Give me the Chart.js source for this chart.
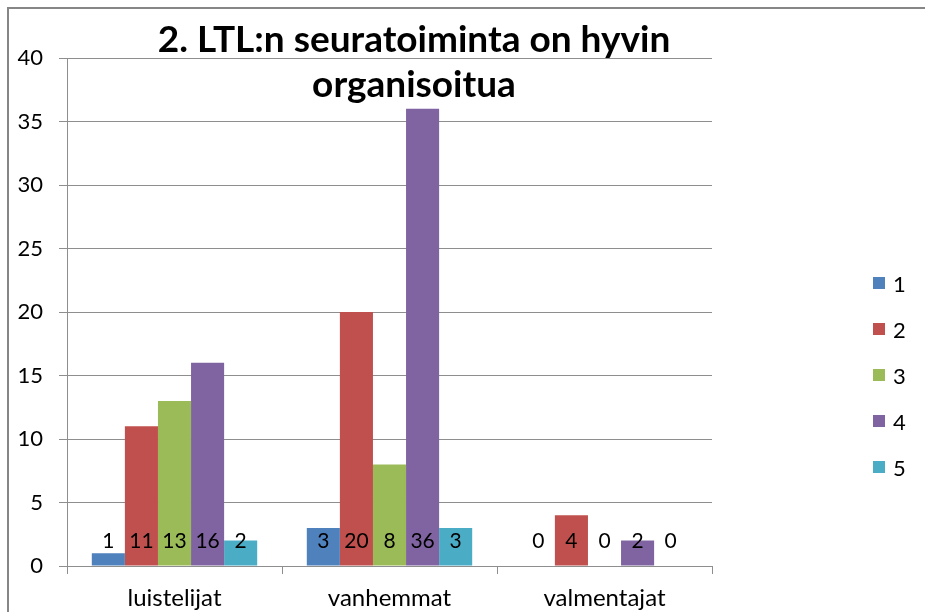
<!DOCTYPE html>
<html lang="fi">
<head>
<meta charset="UTF-8">
<title>LTL:n seuratoiminta</title>
<script src="https://cdn.jsdelivr.net/npm/chart.js@4.4.7/dist/chart.umd.min.js"></script>
<style>
  * { margin: 0; padding: 0; box-sizing: border-box; }
  html, body { width: 925px; height: 612px; overflow: hidden; background: #fff; font-family: Lato, sans-serif; }
  .frame { position: absolute; left: 7px; top: 7px; width: 918px; height: 605px; border-left: 2px solid #868686; border-top: 2px solid #868686; }
  .wrap { position: absolute; left: 0; top: 0; width: 925px; height: 612px; }
  .legend { position: absolute; left: 873px; top: 260px; list-style: none; }
  .legend li { display: flex; align-items: center; height: 46px; font-size: 22px; color: #000; }
  .legend span.box { width: 12px; height: 12px; margin-right: 8px; }
</style>
</head>
<body>
  <div class="frame"></div>
  <div class="wrap"><canvas id="chart" width="925" height="612"></canvas></div>
  <ul class="legend" id="legend"></ul>

  <script>
    const titleLines = ['2. LTL:n seuratoiminta on hyvin', 'organisoitua'];
    const categories = ['luistelijat', 'vanhemmat', 'valmentajat'];
    const seriesNames = ['1', '2', '3', '4', '5'];
    const series1 = [1, 3, 0];
    const series2 = [11, 20, 4];
    const series3 = [13, 8, 0];
    const series4 = [16, 36, 2];
    const series5 = [2, 3, 0];
    const yTicks = [0, 5, 10, 15, 20, 25, 30, 35, 40];
    const colors = ['#4F81BD', '#C0504D', '#9BBB59', '#8064A2', '#4BACC6'];

    const allSeries = [series1, series2, series3, series4, series5];
    const gridColor = '#8e8e8e';

    // arvot palkkien alaosaan (Excel "inside base")
    const baseLabels = {
      id: 'baseLabels',
      afterDatasetsDraw(chart) {
        const { ctx, scales: { y } } = chart;
        ctx.save();
        ctx.font = '21px Lato';
        ctx.fillStyle = '#000';
        ctx.textAlign = 'center';
        ctx.textBaseline = 'middle';
        chart.data.datasets.forEach((ds, i) => {
          chart.getDatasetMeta(i).data.forEach((bar, j) => {
            ctx.fillText(String(ds.data[j]), bar.x, y.getPixelForValue(0) - 25);
          });
        });
        ctx.restore();
      }
    };

    // otsikko piirtoalueen päälle
    const overlayTitle = {
      id: 'overlayTitle',
      afterDraw(chart) {
        const { ctx } = chart;
        ctx.save();
        ctx.font = 'bold 37px Lato';
        ctx.fillStyle = '#000';
        ctx.textAlign = 'center';
        ctx.textBaseline = 'alphabetic';
        ctx.fillText(titleLines[0], 414, 52);
        ctx.fillText(titleLines[1], 414, 97);
        ctx.restore();
      }
    };

    new Chart(document.getElementById('chart'), {
      type: 'bar',
      data: {
        labels: categories,
        datasets: allSeries.map((d, i) => ({
          label: seriesNames[i],
          data: d,
          backgroundColor: colors[i],
          borderWidth: 0,
          categoryPercentage: 5 / 6.5,
          barPercentage: 1
        }))
      },
      options: {
        responsive: false,
        animation: false,
        layout: { padding: { top: 58, right: 213, bottom: 0, left: 0 } },
        plugins: {
          legend: { display: false },
          title: { display: false },
          tooltip: { enabled: false }
        },
        scales: {
          x: {
            grid: { drawOnChartArea: false, tickLength: 8, color: gridColor },
            border: { color: gridColor },
            ticks: { color: '#000', font: { family: 'Lato', size: 24 }, padding: 10 },
            afterFit: s => { s.height = 46; }
          },
          y: {
            min: 0,
            max: 40,
            afterBuildTicks: s => { s.ticks = yTicks.map(v => ({ value: v })); },
            grid: { tickLength: 8, color: gridColor },
            border: { color: gridColor },
            ticks: { color: '#000', font: { family: 'Lato', size: 22 }, padding: 16 },
            afterFit: s => { s.width = 67; }
          }
        }
      },
      plugins: [baseLabels, overlayTitle]
    });

    const legendEl = document.getElementById('legend');
    legendEl.innerHTML = seriesNames.map((n, i) =>
      '<li><span class="box" style="background:' + colors[i] + '"></span>' + n + '</li>'
    ).join('');
  </script>
</body>
</html>
